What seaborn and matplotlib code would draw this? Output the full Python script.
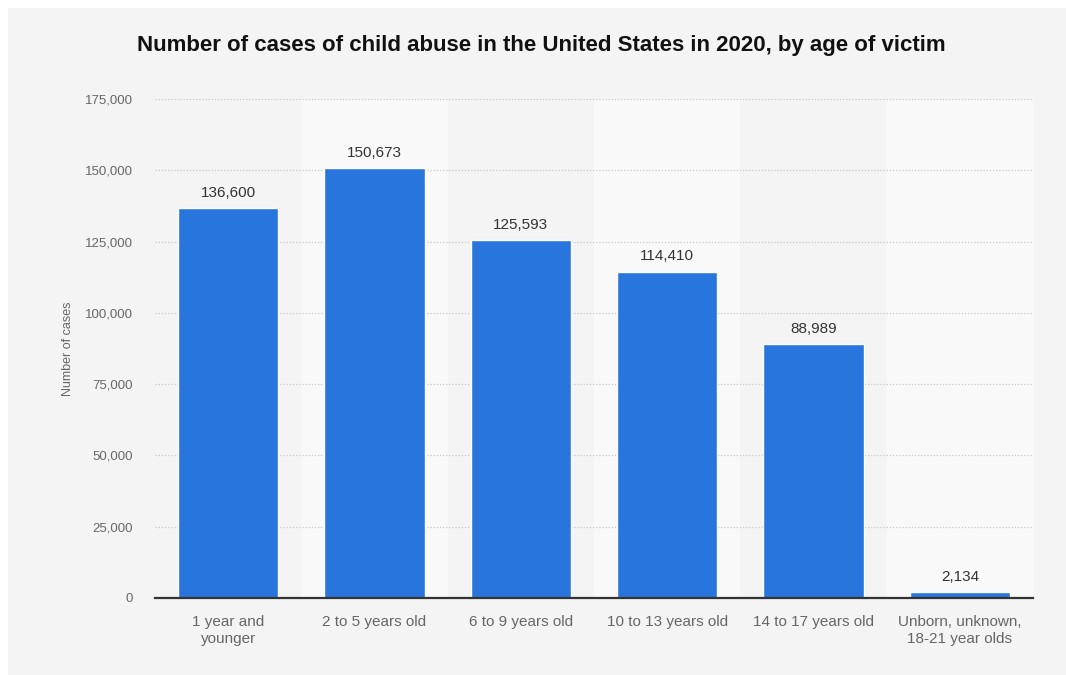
import matplotlib
matplotlib.use("Agg")
import matplotlib.pyplot as plt
from matplotlib.patches import Rectangle
from matplotlib.ticker import FuncFormatter, MultipleLocator
import seaborn as sns
import pandas as pd

# Child abuse cases in the US, 2020, by age of victim
age_groups = [
    "1 year and\nyounger",
    "2 to 5 years old",
    "6 to 9 years old",
    "10 to 13 years old",
    "14 to 17 years old",
    "Unborn, unknown,\n18-21 year olds",
]
cases = [136600, 150673, 125593, 114410, 88989, 2134]

df = pd.DataFrame({"age_group": age_groups, "cases": cases})

sns.set_theme(style="white")
plt.rcParams["font.family"] = ["Liberation Sans", "DejaVu Sans"]

W, H = 1066, 675
fig = plt.figure(figsize=(W / 100, H / 100), dpi=100)
fig.patch.set_facecolor("white")

# light grey card behind the chart
fig.patches.append(Rectangle((8 / W, 0), 1 - 8 / W, 1 - 8 / H,
                             transform=fig.transFigure, facecolor="#f4f4f4",
                             edgecolor="none", zorder=-5))

ax = fig.add_axes([155 / W, 1 - 598 / H, (1033 - 155) / W, (598 - 99) / H])
ax.set_facecolor("#f4f4f4")

# alternating column shading
for i in range(len(age_groups)):
    if i % 2 == 1:
        ax.axvspan(i - 0.5, i + 0.5, color="#f9f9f9", zorder=0, lw=0)

sns.barplot(data=df, x="age_group", y="cases", color="#2876dd",
            saturation=1, width=0.684, ax=ax, zorder=3)

ax.set_xlim(-0.5, len(age_groups) - 0.5)
ax.set_ylim(0, 175000)
ax.yaxis.set_major_locator(MultipleLocator(25000))
ax.yaxis.set_major_formatter(FuncFormatter(lambda v, p: f"{int(v):,}"))

ax.grid(axis="y", linestyle=(0, (1, 1.5)), color="#c8c8c8", linewidth=0.9, zorder=1)
ax.grid(axis="x", visible=False)
ax.set_axisbelow(True)

for s in ["top", "right", "left"]:
    ax.spines[s].set_visible(False)
ax.spines["bottom"].set_color("#333333")
ax.spines["bottom"].set_linewidth(1.6)
ax.spines["bottom"].set_zorder(4)

ax.tick_params(axis="y", length=0, pad=16, labelsize=9.5, labelcolor="#666666")
ax.tick_params(axis="x", length=0, pad=12.5, labelsize=11, labelcolor="#666666")
for lbl in ax.get_xticklabels():
    lbl.set_linespacing(1.25)

ax.set_xlabel("")
ax.set_ylabel("Number of cases", fontsize=9, color="#666666", labelpad=8)

for cont in ax.containers:
    ax.bar_label(cont, labels=[f"{v:,}" for v in cases], padding=6,
                 fontsize=11, color="#333333")

fig.text(541 / W, 1 - 45 / H,
         "Number of cases of child abuse in the United States in 2020, by age of victim",
         ha="center", va="center", fontsize=16, fontweight="bold", color="#111111")

fig.savefig("out.png", dpi=100, facecolor=fig.get_facecolor())
